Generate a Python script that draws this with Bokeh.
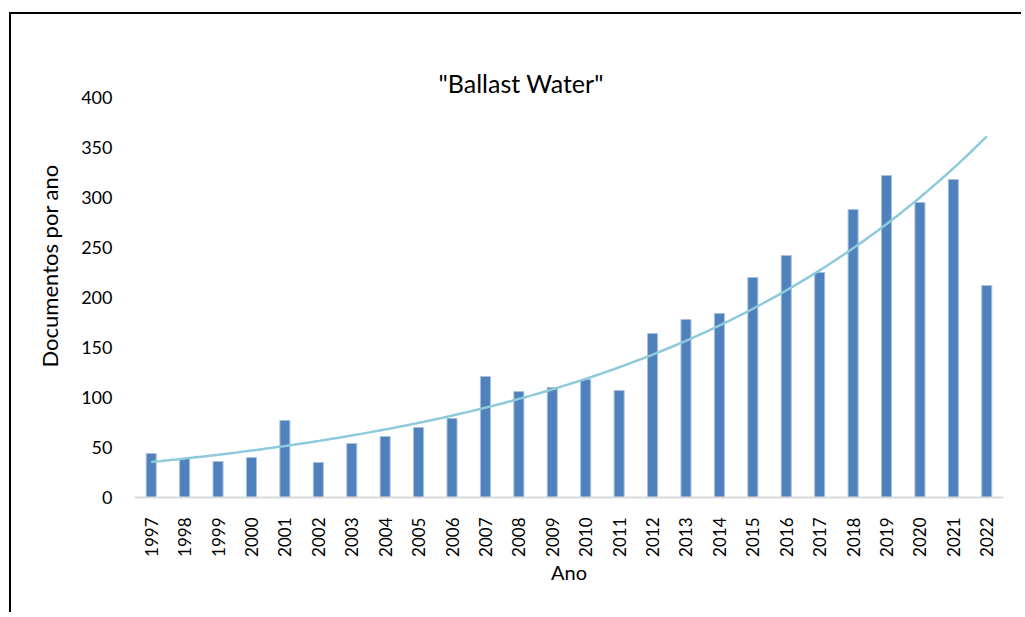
import numpy as np
from math import pi
from bokeh.plotting import figure
from bokeh.models import Range1d, FixedTicker, Title, ColumnDataSource
from bokeh.embed import file_html
from bokeh.resources import INLINE

# ---- data ----
years = [1997, 1998, 1999, 2000, 2001, 2002, 2003, 2004, 2005, 2006, 2007, 2008, 2009,
         2010, 2011, 2012, 2013, 2014, 2015, 2016, 2017, 2018, 2019, 2020, 2021, 2022]
documents = [44, 39, 36, 40, 77, 35, 54, 61, 70, 79, 121, 106, 110,
             118, 107, 164, 178, 184, 220, 242, 225, 288, 322, 295, 318, 212]
y_ticks = [0, 50, 100, 150, 200, 250, 300, 350, 400]
title_text = '"Ballast Water"'
x_title = "Ano"
y_title = "Documentos por ano"

FONT = "Lato"

idx = np.arange(len(years))
# exponential trend line (least squares on log values, like a spreadsheet trendline)
b, a = np.polyfit(idx, np.log(documents), 1)
tx = np.linspace(0, len(years) - 1, 200)
ty = np.exp(a + b * tx)

src = ColumnDataSource(dict(x=idx, top=documents))

p = figure(width=1012, height=600, output_backend="svg", toolbar_location=None,
           x_range=Range1d(-0.5, len(years) - 0.5), y_range=Range1d(0, 400),
           min_border_left=123, min_border_right=20, min_border_top=83, min_border_bottom=117)
p.margin = (12, 0, 0, 9)
p.styles = {"border-left": "2px solid #000", "border-top": "2px solid #000"}
p.title.visible = False
p.outline_line_color = None
p.border_fill_color = "white"
p.background_fill_color = "white"
p.grid.visible = False

# transparent spacer next to the frame, then the chart title above it
p.add_layout(Title(text=".", text_font=FONT, text_font_size="16px", standoff=14,
                   text_alpha=0), "above")
p.add_layout(Title(text=title_text, align="left", offset=304, vertical_align="bottom",
                   standoff=0, text_font=FONT, text_font_size="25px",
                   text_font_style="normal", text_color="black"), "above")

p.vbar(x="x", top="top", width=0.3, bottom=0, source=src,
       fill_color="#4F81BD", line_color="#A9C0DD", line_width=1)
p.line(tx, ty, line_color="#8DCADB", line_width=2.5)

# x axis
xa = p.xaxis[0]
xa.ticker = FixedTicker(ticks=list(idx))
xa.major_label_overrides = {int(i): str(y) for i, y in zip(idx, years)}
xa.major_label_orientation = pi / 2
xa.major_tick_line_color = None
xa.minor_tick_line_color = None
xa.axis_line_color = "#D9D9D9"
xa.axis_line_width = 2
xa.major_label_standoff = 14
xa.major_label_text_font = FONT
xa.major_label_text_font_size = "17px"
xa.major_label_text_color = "black"
xa.axis_label = x_title
xa.axis_label_text_font = FONT
xa.axis_label_text_font_size = "20px"
xa.axis_label_text_font_style = "normal"
xa.axis_label_text_color = "black"
xa.axis_label_standoff = 0

# y axis
ya = p.yaxis[0]
ya.ticker = FixedTicker(ticks=y_ticks)
ya.major_tick_line_color = None
ya.minor_tick_line_color = None
ya.axis_line_color = None
ya.major_label_standoff = 16
ya.major_label_text_font = FONT
ya.major_label_text_font_size = "18px"
ya.major_label_text_color = "black"

ytitle = Title(text=y_title, align="left", offset=130, standoff=31,
               text_font=FONT, text_font_size="22px", text_font_style="normal",
               text_color="black")
p.add_layout(ytitle, "left")

open("out.html", "w").write(file_html(p, INLINE))
